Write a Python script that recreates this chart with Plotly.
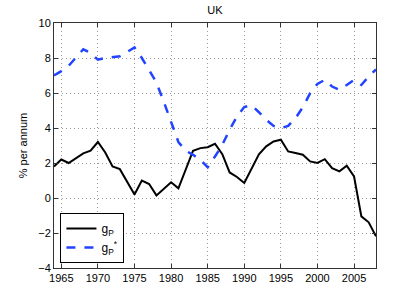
import plotly.graph_objects as go

years = list(range(1964, 2009))
g_p = [1.8, 2.2, 2.0, 2.3, 2.55, 2.7, 3.2, 2.6, 1.8, 1.65, 0.9, 0.2, 1.0, 0.8, 0.15, 0.5,
       0.9, 0.55, 1.6, 2.7, 2.85, 2.9, 3.1, 2.5, 1.46, 1.2, 0.86, 1.7, 2.5, 2.95, 3.23,
       3.33, 2.66, 2.57, 2.47, 2.09, 2.0, 2.22, 1.71, 1.52, 1.84, 1.23, -1.05, -1.39, -2.19]
g_p_star = [7.0, 7.25, 7.55, 8.0, 8.5, 8.3, 7.9, 8.0, 8.05, 8.1, 8.35, 8.6, 8.0, 7.3, 6.6,
            5.5, 4.4, 3.2, 2.7, 2.47, 2.18, 1.75, 2.37, 3.04, 3.9, 4.66, 5.2, 5.3, 4.9,
            4.47, 4.12, 3.99, 4.12, 4.56, 5.19, 5.99, 6.52, 6.75, 6.37, 6.18, 6.46, 6.75,
            6.46, 6.94, 7.35]
x_ticks = [1965, 1970, 1975, 1980, 1985, 1990, 1995, 2000, 2005]
y_ticks = [-4, -2, 0, 2, 4, 6, 8, 10]

fig = go.Figure()
fig.add_trace(go.Scatter(x=years, y=g_p, mode="lines", name="g<sub>P</sub>",
                         line=dict(color="black", width=2)))
fig.add_trace(go.Scatter(x=years, y=g_p_star, mode="lines", name="g<sub>P</sub><sup>*</sup>",
                         line=dict(color="#2244ff", width=2.5, dash="dash")))

axis_common = dict(showline=True, linecolor="#333333", linewidth=1, mirror="ticks",
                   ticks="inside", ticklen=4, tickcolor="#333333",
                   showgrid=True, gridcolor="#999999", griddash="1px,3px", gridwidth=1,
                   zeroline=False, tickfont=dict(size=11, color="black"))

fig.update_xaxes(range=[1964, 2008], tickvals=x_ticks, **axis_common)
fig.update_yaxes(range=[-4, 10], tickvals=y_ticks,
                 title=dict(text="% per annum", font=dict(size=11, color="black"), standoff=8),
                 **axis_common)

fig.update_layout(
    width=415, height=303,
    margin=dict(l=54, r=39, t=23, b=35),
    paper_bgcolor="white", plot_bgcolor="white",
    font=dict(family="Liberation Sans, Arial, sans-serif", size=11, color="black"),
    title=dict(text="UK", x=0.5, xref="paper", y=1 - 10 / 303, yref="container",
               yanchor="middle", font=dict(size=11, color="black")),
    legend=dict(x=0.02, y=0.02, xanchor="left", yanchor="bottom",
                bgcolor="white", bordercolor="black", borderwidth=1,
                font=dict(size=12), itemwidth=30, tracegroupgap=0),
    showlegend=True,
)

fig.write_html("out.html", config={"displayModeBar": False},
               post_script="document.body.style.margin='0';document.body.style.padding='0';")
